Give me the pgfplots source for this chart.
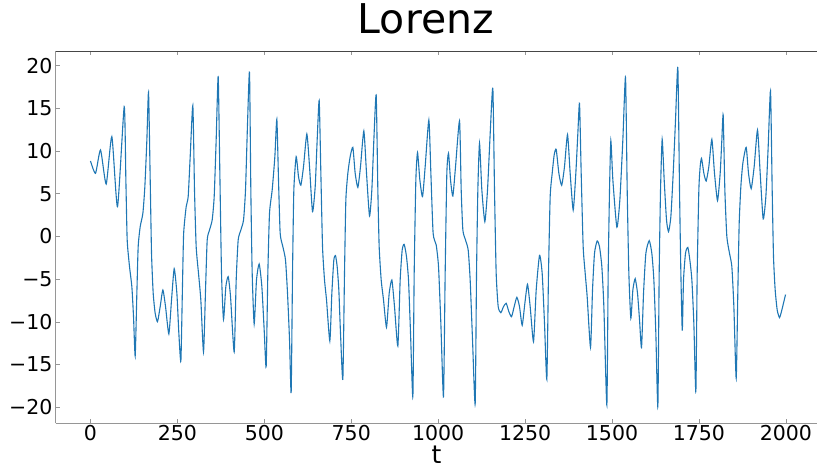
\documentclass[border=0pt]{standalone}
\usepackage{pgfplots}
\pgfplotsset{compat=1.18}
\usepackage{fontspec}
\setmainfont{DejaVu Sans}
\definecolor{mplblue}{RGB}{31,119,180}
\definecolor{spinegray}{RGB}{150,150,150}
\definecolor{spinedark}{RGB}{70,70,70}
\begin{document}
\begin{tikzpicture}[x=1pt,y=1pt]
\useasboundingbox (0,0) rectangle (817,468);
\begin{axis}[
  at={(55.7pt,44.7pt)}, anchor=south west,
  scale only axis, width=761.3pt, height=372.3pt,
  xmin=-100, xmax=2089.5, ymin=-21.87, ymax=21.72,
  axis x line*=box, axis y line*=left,
  x axis line style={spinegray, line width=0.8pt},
  y axis line style={spinegray, line width=0.8pt},
  tick align=inside, xtick pos=both,
  major tick length=4pt,
  tick style={spinegray, line width=0.6pt},
  xtick={0,250,500,750,1000,1250,1500,1750,2000},
  xticklabels={0,250,500,750,1000,1250,1500,1750,2000},
  ytick={-20,-15,-10,-5,0,5,10,15,20},
  yticklabels={−20,−15,−10,−5,0,5,10,15,20},
  ticklabel style={font=\fontsize{20.5}{24}\selectfont},
  xticklabel style={inner sep=1pt, yshift=-1pt},
  yticklabel style={inner sep=1pt, xshift=-2pt},
  clip=false,
]
\addplot[mplblue, line width=1.1pt, smooth, tension=0.35] coordinates {
(0,8.84) (14.5,7.40) (28.9,10.13) (45.2,6.15) (61.5,11.69) (77.8,3.50) (97.0,15.2)
(101.8,6.62) (105.6,-0.41) (112.3,-3.53) (119.0,-5.87) (123.8,-9.38) (128.6,-13.99)
(133.4,-6.65) (137.2,-1.19) (143.0,1.15) (150.7,2.71) (156.4,5.84) (162.2,11.3) (167.0,16.88)
(171.8,6.62) (175.6,-1.97) (180.4,-6.65) (186.1,-8.99) (192.8,-9.97) (200.5,-8.21) (208.2,-6.26)
(215.9,-8.21) (225.4,-11.41) (233.1,-7.43) (240.8,-3.77) (248.5,-6.65) (254.2,-11.34) (260.0,-14.58)
(264.5,-6.0) (268,0.37) (275.3,3.5) (281,4.66) (286.8,9.35) (294.4,15.32)
(299.2,5.45) (304,-1.19) (310.7,-4.31) (317.4,-7.43) (325.1,-13.52)
(330.9,-6.26) (335.7,-0.41) (342.4,0.76) (350.0,1.93) (355.8,4.66) (361.5,11.3) (367.3,18.72)
(372.1,7.40) (376.9,-4.31) (382.6,-9.70) (389.3,-5.87) (396.1,-4.70) (402.8,-7.04) (413.3,-13.52)
(419.1,-5.09) (424.8,-0.41) (432.5,0.76) (440.2,1.93) (445.9,5.45) (451.7,13.25) (457.4,19.22)
(461.2,5.45) (465.1,-4.31) (470.8,-10.24) (477.5,-5.09) (485.2,-3.22) (492.9,-5.87) (499.6,-10.95) (505.3,-15.24)
(510.1,-4.31) (514.9,2.71) (522.6,5.45) (530.3,9.35) (536.0,13.72)
(540.8,6.62) (545.6,0.37) (553.3,-1.19) (560.9,-2.75) (566.7,-6.65) (572.5,-12.12) (577.2,-18.28)
(581.1,-4.31) (584.9,5.45) (591.6,9.35) (598.3,7.01) (605.0,6.0) (612.7,8.18) (622.3,12.0)
(630.0,8.18) (638.6,2.91) (646.3,5.84) (652.0,11.30) (657.8,15.91)
(662.6,7.40) (667.4,-1.19) (673.1,-5.09) (678.9,-7.43) (688.4,-12.23)
(694.2,-6.65) (699.9,-2.75) (704.7,-2.24) (709.5,-3.53) (714.3,-6.26) (719.1,-11.34) (725.8,-16.72)
(730.6,-4.31) (734.5,4.28) (740.2,7.40) (746.9,9.35) (754.6,10.44) (761.3,7.40) (769.0,5.76)
(776.6,8.18) (786.2,12.35) (793.9,7.40) (802.5,2.40) (809.2,5.45) (815.0,11.30) (821.7,16.57)
(826.5,5.45) (830.3,-1.19) (836.1,-5.09) (842.8,-7.43) (851.4,-10.63) (859.1,-6.65) (866.8,-5.09)
(874.4,-8.21) (884.0,-12.82) (890.7,-5.09) (896.5,-1.58) (902.2,-0.92) (908.9,-2.36) (914.7,-5.09)
(920.5,-11.34) (927.2,-18.75)
(931.0,-4.31) (935.8,6.62) (940.6,9.82) (947.3,6.62) (955.0,4.67) (962.6,8.18) (973.2,13.64)
(979.0,7.40) (985.5,0.37) (994.3,-0.99) (1001.0,-3.53) (1007.7,-10.17) (1015.3,-18.75)
(1020.1,-4.31) (1024.9,7.40) (1029.7,9.74) (1035.5,6.62) (1042.2,4.74) (1049.9,8.18) (1061.4,13.53)
(1066.2,5.45) (1071.0,0.76) (1078.6,-0.41) (1086.3,-1.58) (1092.0,-5.09) (1098.8,-12.12) (1106.4,-19.61)
(1110.3,-4.31) (1114.1,5.45) (1118.9,10.91) (1125.6,5.45) (1134.2,1.74) (1141.9,5.45) (1149.6,12.08) (1157.2,17.35)
(1162.0,5.45) (1166.8,-4.31) (1172.6,-8.21) (1180.2,-8.92) (1187.9,-8.21) (1195.6,-7.82) (1203.3,-8.80)
(1210.9,-9.39) (1218.6,-8.21) (1226.3,-7.12) (1233.9,-8.21) (1241.6,-10.40) (1249.3,-7.82) (1256.9,-5.60)
(1264.6,-8.21) (1274.2,-12.31) (1281.9,-6.26) (1291.5,-2.20) (1299.1,-4.31) (1305.8,-10.17) (1312.5,-16.72)
(1317.3,-4.31) (1322.1,4.67) (1327.9,7.40) (1333.6,9.54) (1339.4,10.21) (1347.1,7.40) (1355.2,6.0)
(1363.3,8.18) (1372.0,11.93) (1379.6,7.40) (1388.3,3.10) (1395.9,7.40) (1401.7,12.08) (1406.5,15.59)
(1411.3,7.40) (1417.0,-1.19) (1422.8,-4.31) (1428.5,-7.04) (1438.1,-12.98)
(1443.9,-6.26) (1449.6,-1.97) (1457.3,-0.52) (1464.0,-1.19) (1470.7,-3.53) (1476.5,-8.21) (1485.1,-19.73)
(1488.9,-4.31) (1492.8,5.45) (1496.6,11.22) (1502.4,6.62) (1513.9,1.08) (1522.5,4.28) (1531.1,11.30) (1538.8,18.64)
(1543.6,5.45) (1548.4,-4.31) (1554.1,-9.58) (1559.9,-6.26) (1566.6,-4.94) (1573.3,-6.65) (1579.1,-9.77) (1584.8,-13.01)
(1590.6,-6.65) (1597.3,-1.97) (1606.9,-0.49) (1614.5,-1.97) (1620.3,-5.09) (1626.0,-11.34) (1631.8,-19.92)
(1635.6,-4.31) (1639.5,5.45) (1644.2,11.38) (1650.0,6.62) (1656.7,1.93) (1662.5,0.57) (1669.2,2.32)
(1675.9,7.40) (1682.6,13.64) (1689.3,19.77)
(1694.1,5.45) (1698.0,-4.31) (1702.0,-11.02) (1705.6,-5.09) (1711.3,-1.97) (1718.0,-1.27) (1723.8,-2.75)
(1729.6,-5.09) (1735.3,-10.17) (1741.1,-18.17)
(1744.9,-4.31) (1749.7,5.45) (1753.5,8.18) (1757.4,9.15) (1764.1,7.40) (1770.8,6.50) (1778.4,8.18)
(1787.1,11.38) (1794.7,7.40) (1803.4,4.20) (1811.0,7.40) (1815.8,11.30) (1819.7,14.19)
(1824.5,5.45) (1830.2,0.0) (1837.9,-1.97) (1844.6,-3.53) (1850.4,-8.21) (1857.1,-16.61)
(1861.9,-6.26) (1865.7,1.54) (1870.5,5.84) (1876.2,8.57) (1885.8,10.44) (1892.5,7.40) (1900.2,5.60)
(1908.8,8.18) (1918.4,12.47) (1926.1,7.40) (1934.7,2.05) (1942.4,4.67) (1949.1,10.52) (1955.8,17.04)
(1960.6,5.45) (1964.4,-2.36) (1969.2,-6.26) (1975.0,-8.60) (1981.7,-9.50) (1988.4,-8.60) (1999,-6.8)
};
\draw[spinedark, line width=0.8pt] (rel axis cs:0,1) -- (rel axis cs:1,1);
\end{axis}
\node[anchor=base, font=\fontsize{41}{48}\selectfont, inner sep=0pt] at (425.8,434.7) {Lorenz};
\node[anchor=base, font=\fontsize{25}{30}\selectfont, inner sep=0pt] at (436.5,4.5) {t};
\end{tikzpicture}
\end{document}
